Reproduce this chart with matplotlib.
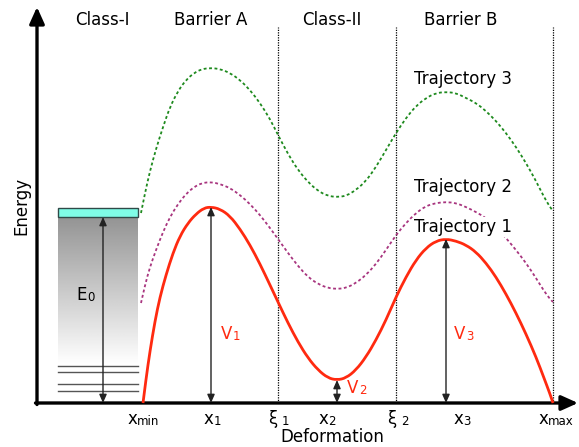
import numpy as np
import matplotlib.pyplot as plt
from matplotlib.patches import Rectangle, PathPatch
from matplotlib.path import Path

# positions along deformation (pixel-like units, origin at the axes corner)
x_min, x_1, xi_1, x_2, xi_2, x_3, x_max = 143, 211, 278, 337, 396, 446, 553

# trajectory 1 = the barrier itself (energy above the baseline)
x_t1 = [143, 146, 150, 155, 160, 166, 173, 180, 188, 196, 204, 211, 220, 230, 240,
        250, 260, 270, 278, 288, 298, 308, 318, 328, 337, 346, 356, 366, 376, 386,
        396, 406, 416, 426, 436, 446, 456, 466, 476, 486, 496, 506, 516, 526, 536,
        544, 550, 553]
e_t1 = [0, 24, 52, 82, 106, 128, 150, 167, 180, 189, 195, 196, 194, 187, 174,
        158, 139, 118, 101, 80, 61, 45, 33, 25, 23, 25, 33, 46, 63, 83,
        106, 126, 143, 155, 162, 164, 162, 158, 151, 140, 126, 109, 90, 69, 46,
        25, 9, 0]

x_t2 = [141, 145, 150, 156, 163, 170, 178, 186, 194, 202, 211, 220, 230, 240, 250,
        260, 270, 278, 288, 298, 308, 318, 328, 337, 346, 356, 366, 376, 386, 396,
        406, 416, 426, 436, 446, 456, 466, 476, 486, 496, 506, 516, 526, 536, 544,
        550, 553]
e_t2 = [100, 118, 136, 153, 171, 186, 199, 209, 216, 220, 221, 219, 215, 208, 199,
        188, 175, 164, 150, 137, 126, 119, 115, 114, 115, 120, 128, 139, 153, 168,
        180, 190, 197, 200, 201, 200, 196, 191, 185, 176, 165, 153, 140, 125, 112,
        104, 101]

x_t3 = [141, 145, 150, 156, 163, 170, 178, 186, 194, 202, 211, 220, 230, 240, 250,
        260, 270, 278, 288, 298, 308, 318, 328, 337, 346, 356, 366, 376, 386, 396,
        406, 416, 426, 436, 446, 456, 466, 476, 486, 496, 506, 516, 526, 536, 544,
        550, 553]
e_t3 = [190, 210, 232, 254, 276, 296, 312, 323, 330, 334, 335, 334, 330, 323, 313,
        300, 284, 268, 249, 233, 221, 212, 207, 206, 207, 213, 222, 236, 253, 270,
        285, 297, 305, 310, 311, 310, 305, 300, 292, 282, 270, 256, 240, 222, 206,
        196, 192]

# ground state box and levels
e_0 = 186
box_x = [58, 138]
levels = [37, 31, 19, 12]

headers = ["Class-I", "Barrier A", "Class-II", "Barrier B"]
header_x = [102, 211, 332, 461]

traj_labels = ["Trajectory 3", "Trajectory 2", "Trajectory 1"]
traj_label_y = [324, 216, 176]

plt.rcParams['font.family'] = ['DejaVu Sans']

fig = plt.figure(figsize=(5.79, 4.47), dpi=100)
ax = fig.add_axes([0, 0, 1, 1])
ax.set_axis_off()


def smooth_path(xs, ys):
    # quadratic pieces through the midpoints, so the curve has no corners
    verts = [(xs[0], ys[0])]
    codes = [Path.MOVETO]
    for i in range(1, len(xs) - 1):
        verts += [(xs[i], ys[i]), ((xs[i] + xs[i + 1]) / 2, (ys[i] + ys[i + 1]) / 2)]
        codes += [Path.CURVE3, Path.CURVE3]
    verts.append((xs[-1], ys[-1]))
    codes.append(Path.LINETO)
    return Path(verts, codes)


# axes arrows
ax.annotate("", xy=(37, 396), xytext=(37, -1.5),
            arrowprops=dict(arrowstyle='-|>,head_length=1.0,head_width=0.45',
                            mutation_scale=10, lw=2.4, color='black',
                            shrinkA=0, shrinkB=0))
ax.annotate("", xy=(578, 0), xytext=(35.5, 0),
            arrowprops=dict(arrowstyle='-|>,head_length=1.0,head_width=0.45',
                            mutation_scale=10, lw=2.4, color='black',
                            shrinkA=0, shrinkB=0))

# boundaries
for xv in [xi_1, xi_2, x_max]:
    ax.plot([xv, xv], [0, 376], color='black', lw=0.9, ls=(0, (1, 1)), zorder=1)

# class-I well: gradient, levels, ground state
grad = np.linspace(0.58, 1.0, 200).reshape(-1, 1)
ax.imshow(grad, cmap='gray', vmin=0, vmax=1, aspect='auto',
          extent=[box_x[0], box_x[1], levels[0] + 2, e_0], zorder=0)
for lv in levels:
    ax.plot(box_x, [lv, lv], color='#555555', lw=1, zorder=2)
ax.add_patch(Rectangle((box_x[0], e_0), box_x[1] - box_x[0], 9,
                       facecolor='#7ffce6', edgecolor='#2f4a48', lw=1, zorder=3))

# trajectories
red = '#ff2a10'
ax.add_patch(PathPatch(smooth_path(x_t3, e_t3), fill=False, edgecolor='#1e8a1e',
                       lw=1.3, ls=(0, (1.6, 1.4)), zorder=2))
ax.add_patch(PathPatch(smooth_path(x_t2, e_t2), fill=False, edgecolor='#a8357f',
                       lw=1.3, ls=(0, (1.6, 1.4)), zorder=2))
ax.add_patch(PathPatch(smooth_path(x_t1, e_t1), fill=False, edgecolor=red,
                       lw=2.0, zorder=3))

# height arrows
arr = dict(arrowstyle='<|-|>,head_length=0.5,head_width=0.22', mutation_scale=10,
           lw=1.0, color='#222222', shrinkA=0, shrinkB=0)
ax.annotate("", xy=(103, e_0), xytext=(103, 0), arrowprops=arr, zorder=4)
ax.annotate("", xy=(x_1, max(e_t1)), xytext=(x_1, 0), arrowprops=arr, zorder=4)
ax.annotate("", xy=(x_2, min(e_t1[20:30])), xytext=(x_2, 0), arrowprops=arr, zorder=4)
ax.annotate("", xy=(x_3, max(e_t1[30:])), xytext=(x_3, 0), arrowprops=arr, zorder=4)


def sub_label(x, y, main, sub, color='black', size=12, subsize=8.5, gap=0.3):
    t = ax.text(x, y, main, ha='center', va='baseline', fontsize=size, color=color)
    ax.annotate(sub, xy=(1, 0), xycoords=t, xytext=(gap, 0),
                textcoords='offset points', ha='left', va='bottom',
                fontsize=subsize, color=color)


# deformation labels
sub_label(132, -21, "x", "min")
sub_label(208, -21, "x", "1")
sub_label(273, -21, "ξ", "1", gap=3)
sub_label(323, -21, "x", "2")
sub_label(392, -21, "ξ", "2", gap=3)
sub_label(458, -21, "x", "3")
sub_label(543, -21, "x", "max")

# barrier heights
sub_label(227, 64, "V", "1", color=red)
sub_label(353, 10, "V", "2", color=red)
sub_label(460, 64, "V", "3", color=red)
sub_label(82, 103, "E", "0")

for h, hx in zip(headers, header_x):
    ax.text(hx, 383, h, ha='center', va='center', fontsize=12)

for lab, ly in zip(traj_labels, traj_label_y):
    ax.text(463, ly, lab, ha='center', va='center', fontsize=12, zorder=5,
            bbox=dict(facecolor='white', edgecolor='none', pad=0.5))

ax.text(21, 197, "Energy", rotation=90, ha='center', va='center', fontsize=12)
ax.text(332, -34, "Deformation", ha='center', va='center', fontsize=12)

ax.set_xlim(0, 579)
ax.set_ylim(-44, 403)

fig.savefig("out.png", dpi=100)
